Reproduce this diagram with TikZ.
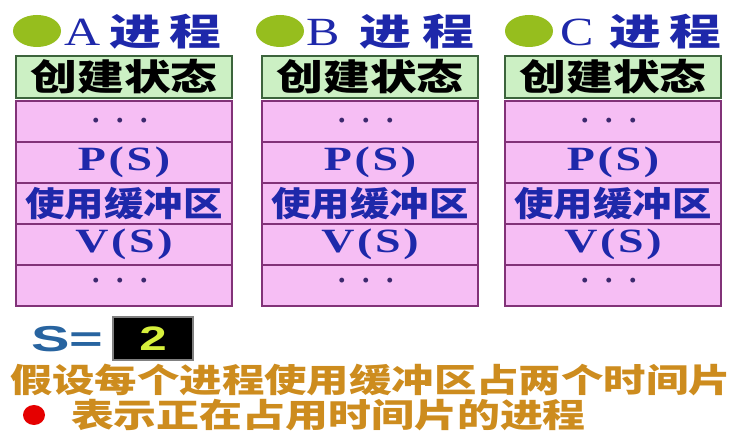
\documentclass[tikz,border=0pt]{standalone}
\usepackage{fontspec}
\setmainfont{Liberation Serif}
\newfontfamily\cjk{Noto Sans CJK SC}
\newfontfamily\ssf{Liberation Sans}
\usepackage{graphicx}
\definecolor{tblue}{RGB}{30,40,170}
\definecolor{gfill}{RGB}{204,240,196}
\definecolor{gedge}{RGB}{60,100,60}
\definecolor{pfill}{RGB}{246,190,244}
\definecolor{pedge}{RGB}{130,50,120}
\definecolor{ball}{RGB}{150,190,30}
\definecolor{sblue}{RGB}{40,100,160}
\definecolor{numc}{RGB}{215,240,60}
\definecolor{goldc}{RGB}{205,140,30}
\definecolor{dotc}{RGB}{60,40,110}
\newcommand\hs[2]{\scalebox{#1}[1]{#2}}
\newcommand\fsz[1]{\fontsize{#1}{#1}\selectfont}
\begin{document}
\begin{tikzpicture}[x=1pt,y=-1pt,
  txt/.style={inner sep=0pt,outer sep=0pt},
  greenbox/.style={draw=gedge,fill=gfill,line width=1.5pt,minimum width=216pt,minimum height=42pt,inner sep=0pt},
  pinkrow/.style={draw=pedge,fill=pfill,line width=1.5pt,minimum width=216pt,minimum height=41pt,inner sep=0pt},
  bluetxt/.style={txt,text=tblue}]
\useasboundingbox[fill=white] (0,0) rectangle (747,435);
\foreach \n/\cx/\bx/\lx/\jx/\kx in {A/124/37/83/135/195, B/370/280/323/385/448, C/613/529/577/635/695}{
  % title
  \fill[ball] (\bx,31) ellipse [x radius=24, y radius=16];
  \node[bluetxt,anchor=base] (let\n) at (\lx,46) {\fsz{40}\hs{1.25}{\n}};
  \node[bluetxt] (jin\n) at (\jx,32) {\cjk\bfseries\fsz{37}\hs{1.4}{进}};
  \node[bluetxt] (cheng\n) at (\kx,32) {\cjk\bfseries\fsz{37}\hs{1.4}{程}};
  % create state
  \node[greenbox] (cs\n) at (\cx,77) {\cjk\bfseries\fsz{36}\hs{1.3}{创建状态}};
  % rows
  \node[pinkrow] (r1\n) at (\cx,121.5) {};
  \node[pinkrow] (r2\n) at (\cx,162.5) {};
  \node[pinkrow] (r3\n) at (\cx,203.5) {};
  \node[pinkrow] (r4\n) at (\cx,244.5) {};
  \node[pinkrow] (r5\n) at (\cx,285.5) {};
  \node[txt,text=dotc,anchor=base] (d1\n) at ([xshift=-4pt]r1\n.center |- 0,131) {\bfseries\fsz{30}·\kern14pt·\kern14pt·};
  \node[bluetxt] (p\n) at (r2\n.center) {\bfseries\fsz{34}\hs{1.35}{P\kern2pt(\kern2pt S\kern2pt)}};
  \node[bluetxt] (use\n) at (r3\n.center) {\cjk\bfseries\fsz{34}\hs{1.16}{使用缓冲区}};
  \node[bluetxt] (v\n) at (r4\n.center) {\bfseries\fsz{34}\hs{1.35}{V\kern2pt(\kern2pt S\kern2pt)}};
  \node[txt,text=dotc,anchor=base] (d2\n) at ([xshift=-4pt]r5\n.center |- 0,291) {\bfseries\fsz{30}·\kern14pt·\kern14pt·};
}
% semaphore
\node[txt,text=sblue,anchor=base west] (slab) at (31,352) {\ssf\bfseries\fsz{36}\hs{1.6}{S=}};
\node[fill=black,draw=gray,line width=2pt,minimum width=80pt,minimum height=43pt,inner sep=0pt] (sbox) at (153,338.5) {\ssf\bfseries\color{numc}\fsz{34}\hs{1.45}{2}};
% notes
\node[txt,text=goldc,anchor=west] (note1) at (10,380) {\cjk\bfseries\fsz{33}\hs{1.285}{假设每个进程使用缓冲区占两个时间片}};
\fill[red!90!black] (34,415) ellipse [x radius=11, y radius=10];
\node[txt,text=goldc,anchor=west] (note2) at (71,415) {\cjk\bfseries\fsz{33}\hs{1.3}{表示正在占用时间片的进程}};
\end{tikzpicture}
\end{document}
